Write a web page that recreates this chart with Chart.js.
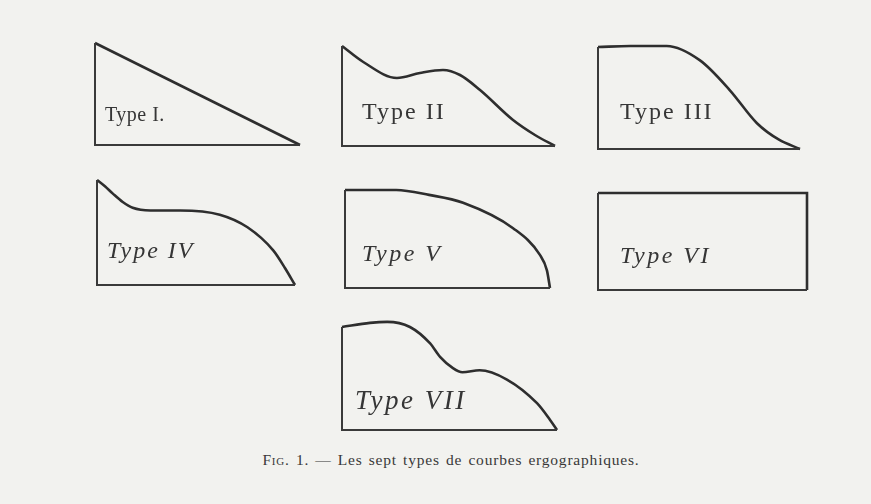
<!DOCTYPE html>
<html>
<head>
<meta charset="utf-8">
<script src="https://cdn.jsdelivr.net/npm/chart.js@4/dist/chart.umd.min.js"></script>
<style>
	html, body { margin: 0; padding: 0; }
	body { width: 871px; height: 504px; background: #f2f2ef; position: relative; overflow: hidden; }
	.panel { position: absolute; }
	#caption {
		position: absolute; left: 0; width: 902px; top: 451px; text-align: center;
		font-family: 'Liberation Serif', 'DejaVu Serif', serif; font-size: 15.5px;
		color: #383838; letter-spacing: 0.8px; word-spacing: 1.5px;
	}
	#caption .sc { font-variant: small-caps; }
</style>
</head>
<body>
<div id="caption"><span class="sc">Fig.</span> 1. — Les sept types de courbes ergographiques.</div>
<script>
// Curve data: x = time (% of effort), y = height (% of first contraction)
const typeLabels = ['Type I.', 'Type II', 'Type III', 'Type IV', 'Type V', 'Type VI', 'Type VII'];

const curveIX = [0, 100];
const curveIY = [100, 0];

const curveIIX = [0, 10, 25.8, 36.6, 47.4, 55.4, 64.8, 80.3, 90.6, 100];
const curveIIY = [100, 84, 68, 73, 76, 71, 56, 26, 11, 0];

const curveIIIX = [0, 16, 34, 50.5, 65.3, 78.7, 89.6, 100];
const curveIIIY = [99, 100, 100, 86, 57, 25, 9, 0];

const curveIVX = [0, 4, 8, 13, 18, 27, 42, 62, 76, 89, 95, 100];
const curveIVY = [100, 94, 87, 79, 73.5, 71, 71, 67, 55, 33, 16, 0];

const curveVX = [0, 25, 41, 57.6, 82, 95, 98.5, 100];
const curveVY = [100, 100, 95, 87, 61, 34, 18, 0];

const curveVIX = [0, 100, 100];
const curveVIY = [100, 100, 0];

const curveVIIX = [0, 13, 21, 31.6, 41, 45.6, 51.6, 56, 64, 76.7, 90.7, 96.7, 100];
const curveVIIY = [100, 104, 105, 100, 84, 71, 60, 56, 58, 49, 26, 10, 0];

const curvesX = [curveIX, curveIIX, curveIIIX, curveIVX, curveVX, curveVIX, curveVIIX];
const curvesY = [curveIY, curveIIY, curveIIIY, curveIVY, curveVY, curveVIY, curveVIIY];
const smooth = [false, true, true, true, true, false, true];

// Layout of each panel on the page (box of the axes), label offset and style
const panels = [
	{ left: 95, top: 43, width: 205, height: 102, lx: 10, ly: 73, fs: 20, it: false, sp: 0.5 },
	{ left: 342, top: 46, width: 213, height: 100, lx: 20, ly: 67, fs: 24, it: false, sp: 2 },
	{ left: 598, top: 46, width: 202, height: 103, lx: 22, ly: 67, fs: 24, it: false, sp: 2 },
	{ left: 97, top: 180, width: 198, height: 105, lx: 10, ly: 72, fs: 24, it: true, sp: 2 },
	{ left: 345, top: 190, width: 205, height: 98, lx: 17, ly: 65, fs: 24, it: true, sp: 2.5 },
	{ left: 598, top: 193, width: 209, height: 97, lx: 22, ly: 64, fs: 24, it: true, sp: 2.5 },
	{ left: 342, top: 327, width: 215, height: 103, lx: 13, ly: 75, fs: 27, it: true, sp: 2.5 },
];

const ink = '#2e2e2e';
const pad = 10;

const labelPlugin = {
	id: 'typeLabel',
	afterDatasetsDraw(chart, args, opts) {
		const { ctx, chartArea } = chart;
		ctx.save();
		ctx.font = `${opts.italic ? 'italic ' : ''}${opts.size}px 'Liberation Serif', 'DejaVu Serif', serif`;
		ctx.letterSpacing = opts.spacing + 'px';
		ctx.fillStyle = '#363636';
		ctx.textBaseline = 'middle';
		ctx.fillText(opts.text, chartArea.left + opts.x, chartArea.top + opts.y);
		ctx.restore();
	}
};

panels.forEach((p, i) => {
	const div = document.createElement('div');
	div.className = 'panel';
	div.style.left = (p.left - pad) + 'px';
	div.style.top = (p.top - pad) + 'px';
	const canvas = document.createElement('canvas');
	canvas.width = p.width + 2 * pad;
	canvas.height = p.height + 2 * pad;
	div.appendChild(canvas);
	document.body.appendChild(div);

	const curve = curvesX[i].map((x, k) => ({ x, y: curvesY[i][k] }));
	const frame = [{ x: 0, y: curvesY[i][0] }, { x: 0, y: 0 }, { x: curvesX[i][curvesX[i].length - 1], y: 0 }];

	new Chart(canvas, {
		type: 'scatter',
		data: {
			datasets: [
				{
					data: frame,
					showLine: true,
					borderColor: '#3a3a3a',
					borderWidth: 2,
					pointRadius: 0,
					tension: 0,
					clip: false,
				},
				{
					data: curve,
					showLine: true,
					borderColor: ink,
					borderWidth: 2.6,
					pointRadius: 0,
					cubicInterpolationMode: smooth[i] ? 'monotone' : 'default',
					tension: smooth[i] ? 0.4 : 0,
					clip: false,
				}
			]
		},
		options: {
			responsive: false,
			animation: false,
			layout: { padding: pad },
			plugins: {
				legend: { display: false },
				tooltip: { enabled: false },
				typeLabel: { text: typeLabels[i], x: p.lx, y: p.ly, size: p.fs, italic: p.it, spacing: p.sp },
			},
			scales: {
				x: { type: 'linear', min: 0, max: 100, display: false },
				y: { type: 'linear', min: 0, max: 100, display: false },
			}
		},
		plugins: [labelPlugin]
	});
});
</script>
</body>
</html>
